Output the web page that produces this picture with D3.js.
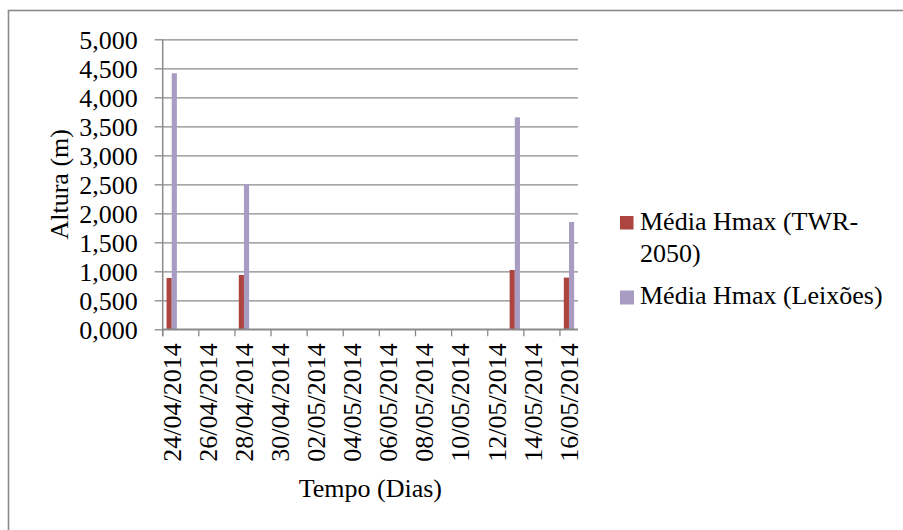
<!DOCTYPE html>
<html>
<head>
<meta charset="utf-8">
<script src="https://cdn.jsdelivr.net/npm/d3@7"></script>
<style>
  html, body { margin: 0; padding: 0; background: #fff; }
  svg { display: block; }
  text { font-family: "Liberation Serif", "Times New Roman", serif; fill: #000; }
</style>
</head>
<body>
<svg id="chart" width="903" height="530"></svg>
<script>
// Daily categories shown on the time axis
const dias = [
  "24/04/2014", "25/04/2014", "26/04/2014", "27/04/2014", "28/04/2014",
  "29/04/2014", "30/04/2014", "01/05/2014", "02/05/2014", "03/05/2014",
  "04/05/2014", "05/05/2014", "06/05/2014", "07/05/2014", "08/05/2014",
  "09/05/2014", "10/05/2014", "11/05/2014", "12/05/2014", "13/05/2014",
  "14/05/2014", "15/05/2014", "16/05/2014"
];
// Days with measurements
const diasMedidos = ["24/04/2014", "28/04/2014", "13/05/2014", "16/05/2014"];
// Mean Hmax per instrument (m)
const hmaxTWR = [0.885, 0.936, 1.022, 0.891];
const hmaxLeixoes = [4.414, 2.500, 3.655, 1.850];
// Axis tick labels
const yTicks = [0, 0.5, 1, 1.5, 2, 2.5, 3, 3.5, 4, 4.5, 5];
const xTickLabels = [
  "24/04/2014", "26/04/2014", "28/04/2014", "30/04/2014", "02/05/2014", "04/05/2014",
  "06/05/2014", "08/05/2014", "10/05/2014", "12/05/2014", "14/05/2014", "16/05/2014"
];
const seriesNames = ["Média Hmax (TWR-2050)", "Média Hmax (Leixões)"];
const seriesColors = ["#AC4440", "#A99CC3"];

const series = [hmaxTWR, hmaxLeixoes];
const rows = diasMedidos.map((d, i) => ({ dia: d, values: series.map(s => s[i]) }));

const svg = d3.select("#chart");
const gray = "#8a8a8a";
const fontSize = 26;
const serif = '"Liberation Serif", "Times New Roman", serif';

// Outer chart frame
svg.append("rect")
  .attr("x", 8.5).attr("y", 10.5)
  .attr("width", 1000).attr("height", 1000)
  .attr("fill", "none").attr("stroke", gray).attr("stroke-width", 1.6);

const plot = { left: 162.7, right: 578, top: 39.3, bottom: 329.3 };

const x = d3.scaleBand().domain(dias).range([plot.left, plot.right]).paddingInner(0).paddingOuter(0);
const y = d3.scaleLinear().domain([0, 5]).range([plot.bottom, plot.top]);

const pt = d3.formatLocale({ decimal: ",", thousands: ".", grouping: [3], currency: ["€", ""] });
const fmt = pt.format(".3f");

// Horizontal gridlines
const grid = svg.append("g")
  .attr("transform", `translate(${plot.left},0)`)
  .call(d3.axisLeft(y).tickValues(yTicks).tickSize(-(plot.right - plot.left)).tickFormat(""));
grid.select(".domain").remove();
grid.selectAll("line").attr("stroke", gray).attr("stroke-width", 1.3);

// Y axis with outward ticks
const yAxis = svg.append("g")
  .attr("transform", `translate(${plot.left},0)`)
  .call(d3.axisLeft(y).tickValues(yTicks).tickSize(8).tickPadding(17).tickFormat(fmt))
  .attr("font-family", serif)
  .attr("font-size", fontSize);
yAxis.select(".domain").remove();
yAxis.selectAll("line").attr("stroke", gray).attr("stroke-width", 1.3);
yAxis.selectAll("text")
  .attr("fill", "#000")
  .attr("dy", "0.34em");
svg.append("line")
  .attr("x1", plot.left).attr("x2", plot.left)
  .attr("y1", plot.top).attr("y2", plot.bottom + 7)
  .attr("stroke", gray).attr("stroke-width", 1.5);

// Bars
const bw = x.bandwidth() / 3.5;
svg.append("g").selectAll("g")
  .data(rows).join("g")
  .attr("transform", d => `translate(${x(d.dia) + x.bandwidth() / 2 - bw},0)`)
  .selectAll("rect")
  .data(d => d.values)
  .join("rect")
  .attr("x", (v, i) => i * bw)
  .attr("width", bw)
  .attr("y", v => y(v))
  .attr("height", v => y(0) - y(v))
  .attr("fill", (v, i) => seriesColors[i]);

// X axis: ticks on every other category boundary, labels centred in the category
const xAxis = svg.append("g")
  .attr("transform", `translate(0,${plot.bottom})`)
  .call(d3.axisBottom(x).tickValues(xTickLabels).tickSize(0).tickFormat(d => d))
  .attr("font-family", serif)
  .attr("font-size", fontSize);
xAxis.select(".domain").remove();
xAxis.selectAll("text")
  .attr("fill", "#000")
  .attr("text-anchor", "end")
  .attr("transform", "rotate(-90)")
  .attr("x", -14)
  .attr("y", 0)
  .attr("dy", "0.34em");
svg.append("line")
  .attr("x1", plot.left).attr("x2", plot.right)
  .attr("y1", plot.bottom).attr("y2", plot.bottom)
  .attr("stroke", gray).attr("stroke-width", 1.5);
svg.append("g").selectAll("line")
  .data(xTickLabels).join("line")
  .attr("x1", d => x(d)).attr("x2", d => x(d))
  .attr("y1", plot.bottom).attr("y2", plot.bottom + 7)
  .attr("stroke", gray).attr("stroke-width", 1.3);

// Axis titles
svg.append("text")
  .attr("transform", `translate(68,${(plot.top + plot.bottom) / 2}) rotate(-90)`)
  .attr("text-anchor", "middle")
  .style("font-size", fontSize + "px")
  .text("Altura (m)");
svg.append("text")
  .attr("x", (plot.left + plot.right) / 2)
  .attr("y", 497)
  .attr("text-anchor", "middle")
  .style("font-size", fontSize + "px")
  .text("Tempo (Dias)");

// Legend
const legend = svg.append("g");
const l1 = legend.append("g");
l1.append("rect").attr("x", 620).attr("y", 216).attr("width", 13.5).attr("height", 13.5).attr("fill", seriesColors[0]);
l1.append("text").attr("x", 640).attr("y", 229.5).style("font-size", fontSize + "px")
  .selectAll("tspan").data(["Média Hmax (TWR-", "2050)"]).join("tspan")
  .attr("x", 640).attr("dy", (d, i) => i === 0 ? 0 : 32).text(d => d);
const l2 = legend.append("g");
l2.append("rect").attr("x", 620).attr("y", 290.5).attr("width", 14).attr("height", 14).attr("fill", seriesColors[1]);
l2.append("text").attr("x", 640).attr("y", 304).style("font-size", fontSize + "px").text(seriesNames[1]);
</script>
</body>
</html>
